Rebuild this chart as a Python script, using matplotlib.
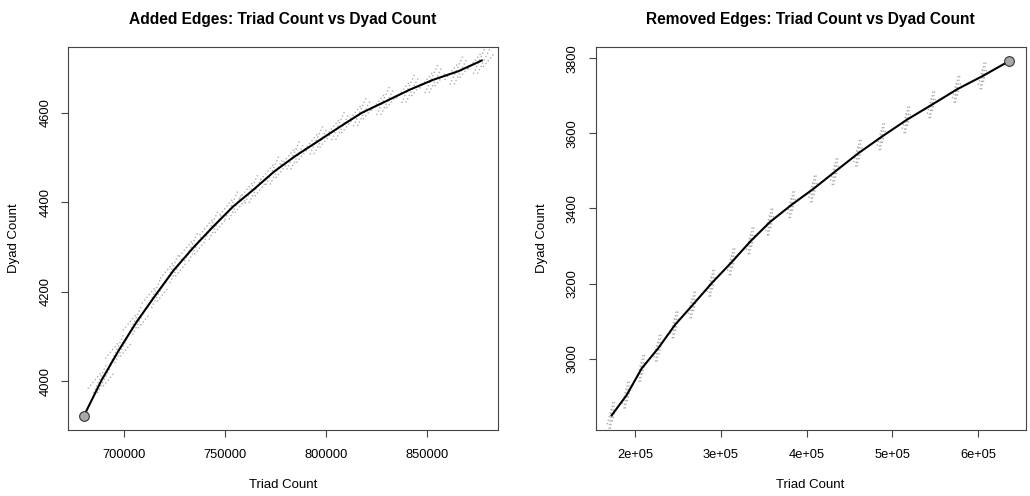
import matplotlib
matplotlib.use("Agg")
import matplotlib.pyplot as plt
from matplotlib.ticker import FuncFormatter

plt.rcParams["font.family"] = ["Liberation Sans", "DejaVu Sans"]

# Added edges: cluster means (triad count, dyad count), first point is the start network
added_triads = [680200, 688960, 697525, 706290, 715690, 724750, 734160, 744210, 754110, 764010,
                774400, 784650, 796190, 806930, 817670, 829210, 841580, 853120, 865500, 877080]
added_dyads = [3923, 4003, 4070, 4133, 4193, 4249, 4298, 4346, 4391, 4428,
               4469, 4503, 4537, 4569, 4600, 4625, 4652, 4674, 4693, 4717]

# Removed edges: cluster means, last point is the start network
removed_triads = [172460, 189960, 207470, 226850, 246340, 267000, 289170, 312870, 335040, 357220,
                  382540, 407750, 433080, 460280, 487590, 516770, 545950, 575270, 605620, 636670]
removed_dyads = [2849, 2903, 2974, 3028, 3090, 3143, 3201, 3258, 3314, 3364,
                 3410, 3452, 3498, 3547, 3591, 3636, 3676, 3717, 3753, 3793]

added_xticks = [700000, 750000, 800000, 850000]
added_yticks = [4000, 4200, 4400, 4600]
removed_xticks = [200000, 300000, 400000, 500000, 600000]
removed_yticks = [3000, 3200, 3400, 3600, 3800]


def sci(v, pos):
    return "{:.0e}".format(v)


def draw_panel(ax, xs, ys, start_idx, spread, title, xticks, yticks, xlim, ylim, xfmt=None):
    # gray jitter clouds around each cluster mean
    dx, dy = spread
    for i in range(len(xs)):
        if i == start_idx:
            continue
        for off, k, ph in ((-1.0, 0.55, 0.0), (-0.35, 1.0, 0.9), (0.35, 0.9, 1.7), (1.0, 0.55, 0.5)):
            ax.plot([xs[i] - dx + off * dx, xs[i] + dx + off * dx], [ys[i] - k * dy, ys[i] + k * dy],
                    color="#b0b0b0", lw=1.2, linestyle=(ph, (0.01, 2.2)),
                    dash_capstyle="round", zorder=1)
    ax.plot(xs, ys, color="black", lw=1.5, zorder=2)
    ax.plot(xs[start_idx], ys[start_idx], "o", ms=7, mfc="#a8a8a8", mec="#333333", mew=0.8, zorder=3)

    ax.set_xlim(xlim)
    ax.set_ylim(ylim)
    ax.set_xticks(xticks)
    ax.set_yticks(yticks)
    if xfmt:
        ax.xaxis.set_major_formatter(FuncFormatter(xfmt))
    ax.tick_params(direction="out", length=5, width=0.8, color="#444444", labelsize=9.3)
    ax.tick_params(axis="x", pad=9)
    ax.tick_params(axis="y", pad=7)
    plt.setp(ax.get_yticklabels(), rotation=90, va="center")
    for s in ax.spines.values():
        s.set_color("#444444")
        s.set_linewidth(0.8)

    ax.set_title(title, fontsize=11.2, fontweight="bold", pad=16)
    ax.set_xlabel("Triad Count", fontsize=9.5, va="center")
    ax.set_ylabel("Dyad Count", fontsize=9.5, va="center")
    ax.xaxis.set_label_coords(0.5, -0.143)
    ax.yaxis.set_label_coords(-0.125, 0.5)


fig = plt.figure(figsize=(10.3, 4.96), dpi=100)
ax1 = fig.add_axes([0.066, 0.133, 0.4175, 0.773])
ax2 = fig.add_axes([0.5783, 0.133, 0.4175, 0.773])

draw_panel(ax1, added_triads, added_dyads, 0, (3300, 33),
           "Added Edges: Triad Count vs Dyad Count",
           added_xticks, added_yticks, (672280, 885130), (3891, 4748))
draw_panel(ax2, removed_triads, removed_dyads, len(removed_triads) - 1, (2500, 40),
           "Removed Edges: Triad Count vs Dyad Count",
           removed_xticks, removed_yticks, (153790, 655600), (2810, 3831), xfmt=sci)

fig.savefig("out.png", dpi=100)
